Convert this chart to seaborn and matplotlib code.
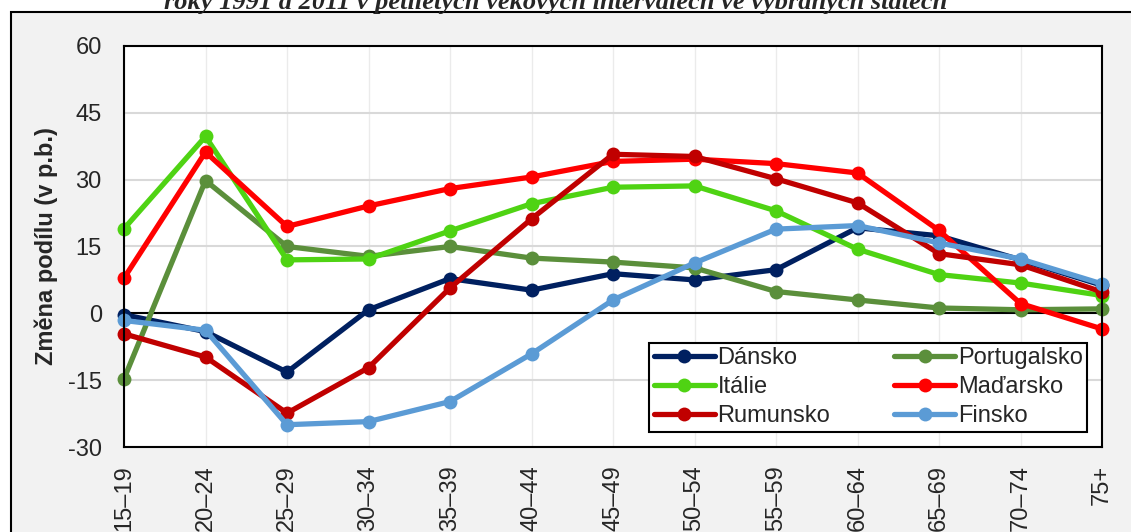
import matplotlib
matplotlib.use("Agg")
import matplotlib.pyplot as plt
from matplotlib.patches import Rectangle
import numpy as np
import pandas as pd
import seaborn as sns

# Age groups and change in share (percentage points) per country
age_groups = ["15–19", "20–24", "25–29", "30–34", "35–39", "40–44", "45–49",
              "50–54", "55–59", "60–64", "65–69", "70–74", "75+"]

dansko = [-0.3, -4.1, -13.2, 0.8, 7.8, 5.2, 8.9, 7.5, 9.8, 19.2, 17.4, 12.0, 6.3]
portugalsko = [-14.7, 29.8, 15.0, 12.8, 15.0, 12.4, 11.5, 10.2, 4.9, 3.0, 1.2, 0.8, 1.0]
italie = [19.0, 39.7, 12.0, 12.2, 18.5, 24.6, 28.3, 28.6, 23.0, 14.4, 8.7, 6.8, 4.0]
madarsko = [7.9, 36.2, 19.5, 24.1, 28.0, 30.6, 34.1, 34.6, 33.6, 31.5, 18.6, 2.2, -3.5]
rumunsko = [-4.6, -9.8, -22.4, -12.2, 5.7, 21.2, 35.7, 35.2, 30.2, 24.8, 13.4, 10.9, 4.8]
finsko = [-1.6, -3.8, -25.0, -24.3, -19.8, -9.1, 3.0, 11.3, 18.9, 19.7, 15.8, 12.2, 6.6]

countries = ["Dánsko", "Portugalsko", "Itálie", "Maďarsko", "Rumunsko", "Finsko"]
series = [dansko, portugalsko, italie, madarsko, rumunsko, finsko]
colors = ["#002060", "#5B8F3B", "#4FD313", "#FF0000", "#C00000", "#5B9BD5"]

y_ticks = [-30, -15, 0, 15, 30, 45, 60]

title = "roky 1991 a 2011 v pětiletých věkových intervalech ve vybraných státech"
y_label = "Změna podílu (v p.b.)"

records = []
for name, vals in zip(countries, series):
    for i, v in enumerate(vals):
        records.append({"idx": i, "value": v, "country": name})
df = pd.DataFrame(records)

sns.set_style("white")
plt.rcParams["font.family"] = ["Liberation Sans", "DejaVu Sans"]
plt.rcParams["axes.unicode_minus"] = False

fig = plt.figure(figsize=(11.31, 5.32), dpi=100)
fig.patch.set_facecolor("white")

# grey chart panel with a black frame running off the right/bottom
panel = Rectangle((11 / 1131, -0.05), 1.2, 1 - 12 / 532 + 0.05,
                  transform=fig.transFigure, facecolor="#F2F2F2",
                  edgecolor="black", linewidth=1.5, zorder=-10)
fig.patches.append(panel)

fig.text(556 / 1131, 1 - 9 / 532, title, ha="center", va="baseline",
         fontsize=19, fontweight="bold", fontstyle="italic",
         family=["Liberation Serif", "DejaVu Serif"])

ax = fig.add_axes([124 / 1131, 1 - 447 / 532, 978 / 1131, 401 / 532])
ax.set_facecolor("white")

palette = dict(zip(countries, colors))
sns.lineplot(data=df, x="idx", y="value", hue="country", hue_order=countries,
             palette=palette, marker="o", markersize=10, markeredgewidth=0,
             linewidth=3.8, ax=ax, legend=False, clip_on=False)

ax.set_xlim(0, 12)
ax.set_ylim(-30, 60)
ax.set_yticks(y_ticks)
ax.set_xticks(np.arange(len(age_groups)))
ax.set_xticklabels(age_groups, rotation=90, fontsize=17)
ax.tick_params(axis="x", length=0, pad=13)
ax.tick_params(axis="y", length=0, pad=16, labelsize=17)
for lbl in ax.get_xticklabels():
    lbl.set_va("top")
    lbl.set_ha("center")

ax.grid(True, axis="y", color="#D9D9D9", linewidth=1.5)
ax.grid(True, axis="x", color="#EBEBEB", linewidth=1.0)
ax.set_axisbelow(True)
ax.axhline(0, color="black", linewidth=1.5, zorder=1.5)
for sp in ax.spines.values():
    sp.set_visible(True)
    sp.set_color("black")
    sp.set_linewidth(1.5)

ax.set_xlabel("")
ax.set_ylabel(y_label, fontsize=17, fontweight="bold")
ax.yaxis.set_label_coords(-0.067, 0.5)

# legend: row-wise reading order in two columns
lines = ax.get_lines()
handle_map = {}
for ln in lines:
    c = matplotlib.colors.to_hex(ln.get_color()).upper()
    for name, col in zip(countries, colors):
        if col.upper() == c and name not in handle_map:
            handle_map[name] = ln
order = ["Dánsko", "Itálie", "Rumunsko", "Portugalsko", "Maďarsko", "Finsko"]
leg = ax.legend([handle_map[n] for n in order], order, ncol=2,
                loc="lower right", bbox_to_anchor=(0.985, 0.037),
                fontsize=17, frameon=True, fancybox=False, framealpha=1,
                edgecolor="black", handlelength=2.6, handletextpad=0.1,
                columnspacing=2.7, labelspacing=0.3, borderpad=0.2,
                borderaxespad=0)
leg.get_frame().set_linewidth(1.5)

fig.savefig("out.png", dpi=100, facecolor=fig.get_facecolor())
